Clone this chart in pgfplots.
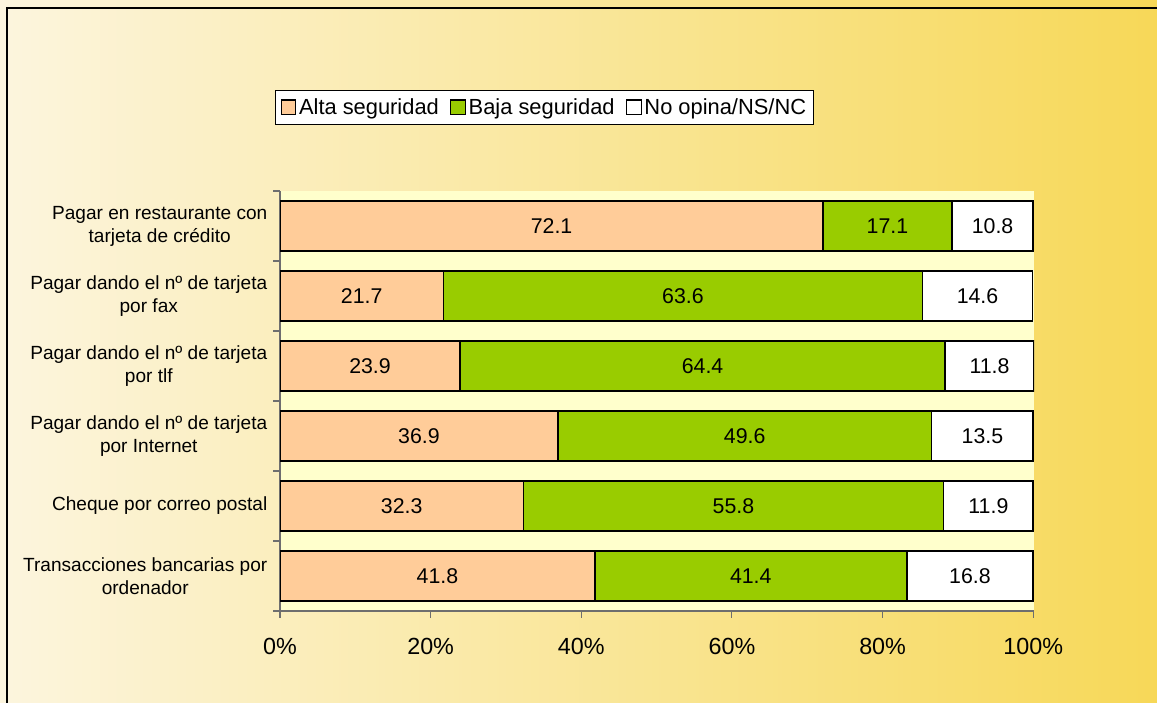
\documentclass[border=0pt]{standalone}
\usepackage{pgfplots}
\pgfplotsset{compat=1.18}
\usepackage{fontspec}
\setmainfont{Liberation Sans}
\definecolor{alta}{RGB}{255,204,153}
\definecolor{baja}{RGB}{153,204,0}
\definecolor{plotbg}{RGB}{255,255,204}
\definecolor{bgleft}{RGB}{252,245,222}
\definecolor{bgmid}{RGB}{250,232,162}
\definecolor{bgright}{RGB}{247,216,88}
\definecolor{axisgray}{RGB}{110,110,110}
\begin{document}
\begin{tikzpicture}
\path[use as bounding box] (0,0) rectangle (867.75pt,527.25pt);
\shade[left color=bgleft, middle color=bgmid, right color=bgright] (0,0) rectangle (867.75pt,527.25pt);
\draw[line width=1.3pt] (5.25pt,0) -- (5.25pt,521.25pt) -- (867.75pt,521.25pt);
\begin{axis}[
  at={(210pt,69pt)}, anchor=south west,
  scale only axis, width=565.5pt, height=315pt,
  xbar stacked, bar width=0.71,
  legend image code/.code={\draw[#1,draw=black,line width=0.9pt] (0pt,-5.5pt) rectangle (11pt,5.5pt);},
  xmin=0, xmax=100.1, ymin=-0.5, ymax=5.5, enlargelimits=false,
  axis background/.style={fill=plotbg},
  axis lines=left, axis line style={-, draw=axisgray, line width=0.8pt},
  tick align=outside,
  major tick length=5pt, minor tick length=5pt,
  every tick/.style={draw=axisgray, line width=0.8pt},
  major y tick style={draw=none},
  xtick={0,20,...,100},
  xticklabels={0\%,20\%,40\%,60\%,80\%,100\%},
  xticklabel style={font=\fontsize{17.5}{20}\selectfont, yshift=-12pt},
  ytick={0,...,5},
  minor ytick={-0.5,0.5,...,5.5},
  yticklabels={{Transacciones bancarias por\\ordenador},
               {Cheque por correo postal},
               {Pagar dando el nº de tarjeta\\por Internet},
               {Pagar dando el nº de tarjeta\\por tlf},
               {Pagar dando el nº de tarjeta\\por fax},
               {Pagar en restaurante con\\tarjeta de crédito}},
  yticklabel style={font=\fontsize{14.3}{17.25}\selectfont, align=center, xshift=-1pt},
  /pgf/number format/assume math mode=true,
  nodes near coords={\pgfmathprintnumber[fixed,fixed zerofill,precision=1]{\pgfplotspointmeta}},
  every node near coord/.append style={anchor=center, text=black,
     font=\fontsize{16}{19}\selectfont},
  legend columns=3,
  legend style={at={(-0.006,1.2405)}, anchor=north west, draw=black, fill=white,
     line width=0.6pt, font=\fontsize{16.4}{19}\selectfont,
     inner ysep=4pt, inner xsep=3.5pt,
     /tikz/every even column/.append style={column sep=6.5pt}},
  legend cell align=left,
]
\addplot[fill=alta, draw=black, line width=1.2pt] coordinates {(72.1,5) (21.7,4) (23.9,3) (36.9,2) (32.3,1) (41.8,0)};
\addplot[fill=baja, draw=black, line width=1.2pt] coordinates {(17.1,5) (63.6,4) (64.4,3) (49.6,2) (55.8,1) (41.4,0)};
\addplot[fill=white, draw=black, line width=1.2pt] coordinates {(10.8,5) (14.6,4) (11.8,3) (13.5,2) (11.9,1) (16.8,0)};
\legend{Alta seguridad, Baja seguridad, No opina/NS/NC}
\end{axis}
\end{tikzpicture}
\end{document}
